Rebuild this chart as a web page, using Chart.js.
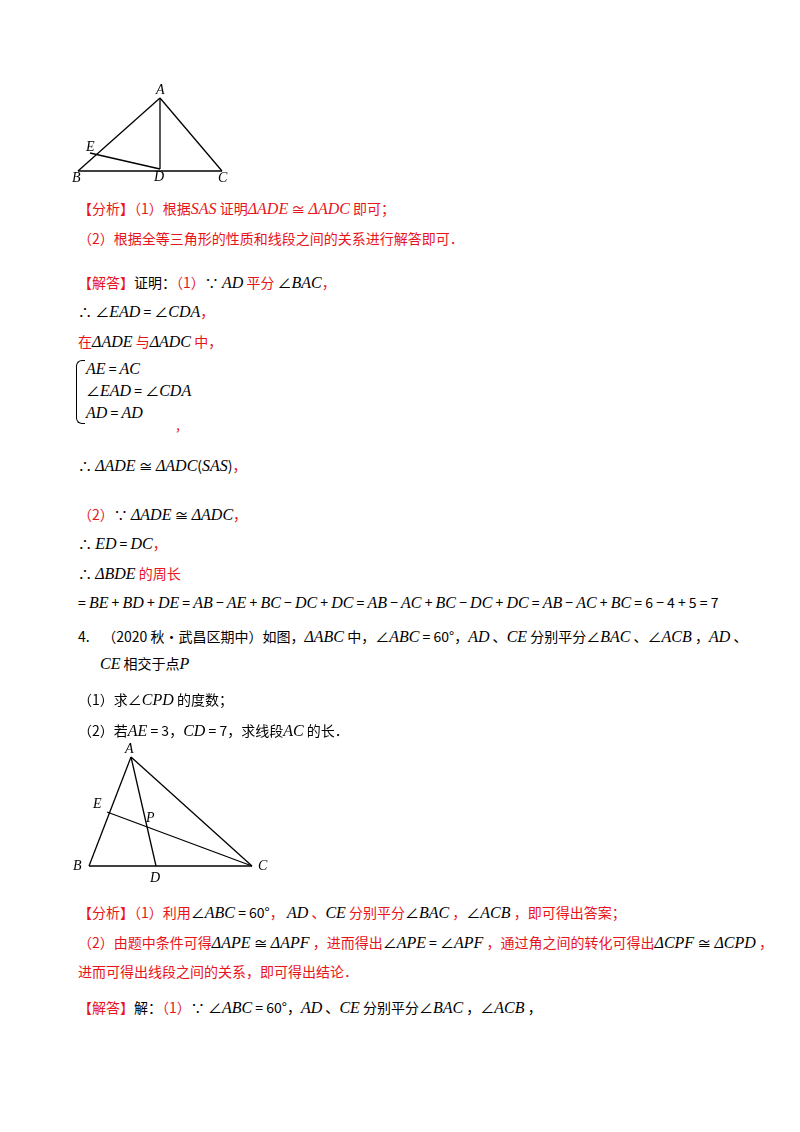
<!DOCTYPE html>
<html><head><meta charset="utf-8">
<script src="https://cdn.jsdelivr.net/npm/chart.js@4.4.4/dist/chart.umd.min.js"></script>
<style>
body{margin:0;background:#fff;width:800px;height:1132px;position:relative;overflow:hidden;font-family:"Noto Sans CJK SC",sans-serif;font-size:14px;color:#000}
.l{position:absolute;white-space:nowrap;line-height:20px}
.r{color:#e8141b}
i{font-family:"Liberation Serif",serif;font-style:italic;font-size:16px}
canvas{position:absolute}
.br{position:absolute;left:76px;top:360px;width:8px;height:62px;border:1.2px solid #000;border-right:none;border-radius:6px 0 0 6px}
</style></head><body>
<canvas id="fig1" style="left:60px;top:80px" width="180" height="110"></canvas>
<canvas id="fig2" style="left:60px;top:738px" width="220" height="152"></canvas>
<div class="br"></div>
<div id="txt"></div>
<script>
// figure 1 points (drawing units = page pixels)
const fig1Names = ['A', 'B', 'C', 'D', 'E'];
const fig1X = [160, 78, 222, 160, 90];
const fig1Y = [98, 171, 171, 169, 153];
const fig1Segs = [['A','B'],['B','C'],['C','A'],['A','D'],['E','D']];
const fig1Lbl = {A:[-4,-4],B:[-6,11],C:[-4,11],D:[-6,12],E:[-4,-2]};

const fig2Names = ['A', 'B', 'C', 'D', 'E', 'P'];
const fig2X = [131, 89, 252, 156, 107, 150];
const fig2Y = [757, 866, 866, 866, 812, 828];
const fig2Segs = [['A','B'],['B','C'],['C','A'],['A','D'],['E','C']];
const fig2Lbl = {A:[-6,-4],B:[-16,4],C:[6,4],D:[-6,16],E:[-14,-4],P:[-4,-6]};

function drawFig(id, names, xs, ys, segs, lbl, left, top, w, h) {
  const pt = (n) => { const k = names.indexOf(n); return { x: xs[k], y: ys[k] }; };
  const datasets = segs.map(([a, b]) => ({
    data: [pt(a), pt(b)], showLine: true, borderColor: '#000', borderWidth: 1.3, pointRadius: 0,
  }));
  const labelPlugin = {
    id: 'ptLabels',
    afterDatasetsDraw(chart) {
      const { ctx, scales } = chart;
      ctx.save();
      ctx.font = 'italic 14px "Liberation Serif", serif';
      ctx.fillStyle = '#000';
      names.forEach((n, k) => {
        const o = lbl[n];
        ctx.fillText(n, scales.x.getPixelForValue(xs[k]) + o[0], scales.y.getPixelForValue(ys[k]) + o[1]);
      });
      ctx.restore();
    },
  };
  new Chart(document.getElementById(id), {
    type: 'scatter',
    data: { datasets },
    options: {
      responsive: false, animation: false, layout: { padding: 0 },
      plugins: { legend: { display: false }, tooltip: { enabled: false } },
      scales: {
        x: { type: 'linear', display: false, min: left, max: left + w },
        y: { type: 'linear', display: false, reverse: true, min: top, max: top + h },
      },
    },
    plugins: [labelPlugin],
  });
}
drawFig('fig1', fig1Names, fig1X, fig1Y, fig1Segs, fig1Lbl, 60, 80, 180, 110);
drawFig('fig2', fig2Names, fig2X, fig2Y, fig2Segs, fig2Lbl, 60, 738, 220, 152);

const lines = [
  [78,198,'<span class="r">【分析】（1）根据<i>SAS</i> 证明<i>ΔADE</i> ≅ <i>ΔADC</i> 即可；</span>'],
  [78,228,'<span class="r">（2）根据全等三角形的性质和线段之间的关系进行解答即可．</span>'],
  [78,272,'<span class="r">【解答】</span>证明：<span class="r">（1）</span>∵ <i>AD</i> <span class="r">平分</span> ∠<i>BAC</i><span class="r">，</span>'],
  [78,301,'∴ ∠<i>EAD</i> = ∠<i>CDA</i><span class="r">，</span>'],
  [78,331,'<span class="r">在</span><i>ΔADE</i> <span class="r">与</span><i>ΔADC</i> <span class="r">中，</span>'],
  [86,358,'<i>AE</i> = <i>AC</i>'],
  [86,380,'∠<i>EAD</i> = ∠<i>CDA</i>'],
  [86,402,'<i>AD</i> = <i>AD</i>'],
  [176,414,'<span class="r">,</span>'],
  [78,455,'∴ <i>ΔADE</i> ≅ <i>ΔADC</i>(<i>SAS</i>)<span class="r">，</span>'],
  [78,504,'<span class="r">（2）</span>∵ <i>ΔADE</i> ≅ <i>ΔADC</i><span class="r">，</span>'],
  [78,533,'∴ <i>ED</i> = <i>DC</i><span class="r">，</span>'],
  [78,563,'∴ <i>ΔBDE</i> <span class="r">的周长</span>'],
  [78,592,'= <i>BE</i> + <i>BD</i> + <i>DE</i> = <i>AB</i> − <i>AE</i> + <i>BC</i> − <i>DC</i> + <i>DC</i> = <i>AB</i> − <i>AC</i> + <i>BC</i> − <i>DC</i> + <i>DC</i> = <i>AB</i> − <i>AC</i> + <i>BC</i> = 6 − 4 + 5 = 7'],
  [78,626,'4.&nbsp;&nbsp;&nbsp;&nbsp;（2020 秋•武昌区期中）如图，<i>ΔABC</i> 中，∠<i>ABC</i> = 60°，<i>AD</i> 、<i>CE</i> 分别平分∠<i>BAC</i> 、∠<i>ACB</i> ，<i>AD</i> 、'],
  [100,653,'<i>CE</i> 相交于点<i>P</i>'],
  [78,689,'（1）求∠<i>CPD</i> 的度数；'],
  [78,720,'（2）若<i>AE</i> = 3，<i>CD</i> = 7，求线段<i>AC</i> 的长．'],
  [78,902,'<span class="r">【分析】（1）利用</span>∠<i>ABC</i> = 60°<span class="r">，</span> <i>AD</i> <span class="r">、</span><i>CE</i> <span class="r">分别平分</span>∠<i>BAC</i> <span class="r">，</span>∠<i>ACB</i> <span class="r">，即可得出答案；</span>'],
  [78,932,'<span class="r">（2）由题中条件可得</span><i>ΔAPE</i> ≅ <i>ΔAPF</i> <span class="r">，进而得出</span>∠<i>APE</i> = ∠<i>APF</i> <span class="r">，通过角之间的转化可得出</span><i>ΔCPF</i> ≅ <i>ΔCPD</i> <span class="r">，</span>'],
  [78,961,'<span class="r">进而可得出线段之间的关系，即可得出结论．</span>'],
  [78,997,'<span class="r">【解答】</span>解：<span class="r">（1）</span>∵ ∠<i>ABC</i> = 60°，<i>AD</i> 、<i>CE</i> 分别平分∠<i>BAC</i> ，∠<i>ACB</i> ，'],
];
const box = document.getElementById('txt');
for (const [x, y, h] of lines) {
  const d = document.createElement('div');
  d.className = 'l'; d.style.left = x + 'px'; d.style.top = y + 'px'; d.innerHTML = h;
  box.appendChild(d);
}
</script>
</body></html>
